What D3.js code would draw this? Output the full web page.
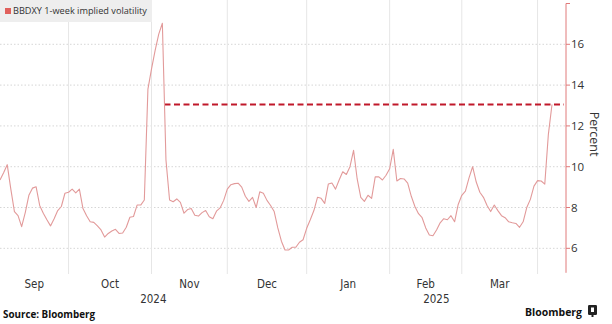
<!DOCTYPE html>
<html>
<head>
<meta charset="utf-8">
<script src="https://cdn.jsdelivr.net/npm/d3@7"></script>
<style>
  html, body { margin: 0; padding: 0; background: #fff; }
  svg { display: block; }
</style>
</head>
<body>
<svg id="chart" width="612" height="324"></svg>
<script>
// BBDXY 1-week implied volatility, daily (weekdays), from 4 Sep 2024
const startDate = "2024-09-04";
const volValues = [
  9.35, 9.7, 10.1, 8.9, 7.8, 7.6, 7.06, 7.75, 8.6, 8.95,
  9.02, 8.1, 7.72, 7.4, 7.1, 7.45, 7.85, 8.05, 8.7, 8.75,
  8.9, 8.72, 8.9, 7.95, 7.6, 7.3, 7.27, 7.1, 6.9, 6.55,
  6.73, 6.85, 6.93, 6.73, 6.75, 7.03, 7.52, 7.56, 8.12, 8.12,
  8.37, 13.8, 14.8, 15.7, 16.5, 17.03, 10.33, 8.37, 8.28, 8.42,
  8.25, 7.72, 7.9, 7.95, 7.62, 7.58, 7.75, 7.85, 7.55, 7.45,
  7.82, 7.98, 8.35, 8.9, 9.12, 9.17, 9.19, 9.0, 8.55, 8.3,
  8.5, 8.0, 8.77, 8.7, 8.35, 8.1, 7.8, 7.0, 6.35, 5.92,
  5.92, 6.05, 6.05, 6.3, 6.42, 6.98, 7.4, 7.85, 8.5, 8.45,
  8.2, 9.15, 9.2, 8.9, 9.35, 9.75, 9.62, 10.0, 10.8, 9.4,
  8.5, 8.3, 8.6, 8.45, 9.5, 9.5, 9.35, 9.58, 9.9, 10.85,
  9.3, 9.42, 9.4, 9.2, 8.55, 8.05, 7.7, 7.5, 7.0, 6.65,
  6.62, 6.9, 7.25, 7.45, 7.4, 7.6, 7.3, 8.15, 8.6, 8.8,
  9.45, 10.0, 9.25, 8.75, 8.5, 8.1, 7.8, 8.12, 7.85, 7.6,
  7.5, 7.3, 7.25, 7.22, 7.03, 7.3, 8.0, 8.4, 9.05, 9.32,
  9.3, 9.15, 11.6, 13.05
];
const yTicks = [6, 8, 10, 12, 14, 16];
const yMinorTicks = [18];
const monthNames = ["Jan","Feb","Mar","Apr","May","Jun","Jul","Aug","Sep","Oct","Nov","Dec"];
const seriesLabel = "BBDXY 1-week implied volatility";
const axisTitle = "Percent";
const sourceText = "Source: Bloomberg";
const brandText = "Bloomberg";

// trading-day calendar (weekdays) for the series
const parse = d3.timeParse("%Y-%m-%d");
const fmt = d3.timeFormat("%Y-%m-%d");
const dates = [];
{
  let d = parse(startDate);
  while (dates.length < volValues.length) {
    const wd = d.getDay();
    if (wd !== 0 && wd !== 6) dates.push(new Date(d));
    d = d3.timeDay.offset(d, 1);
  }
}
const data = dates.map((d, i) => ({ key: fmt(d), date: d, value: volValues[i] }));

const svg = d3.select("#chart");
const plotRight = 566;
const plotTop = 3.5, plotBottom = 272.8;

const x = d3.scalePoint().domain(data.map(d => d.key)).range([0, 552]);
const y = d3.scaleLinear().domain([4.8, 18]).range([plotBottom, plotTop]);

const fontMain = "'Open Sans', 'Noto Sans', sans-serif";
const fontAxis = "'DejaVu Sans Condensed', 'Liberation Sans Narrow', 'Open Sans', sans-serif";

// horizontal dotted grid
svg.append("g").selectAll("line").data(yTicks).join("line")
  .attr("x1", 0).attr("x2", plotRight)
  .attr("y1", d => y(d)).attr("y2", d => y(d))
  .attr("stroke", "#d6d6d6").attr("stroke-width", 1)
  .attr("stroke-dasharray", "1.5,2");

// month boundaries (first trading day of each month)
const monthStarts = [];
data.forEach((d, i) => {
  if (i === 0 || d.date.getMonth() !== data[i - 1].date.getMonth()) monthStarts.push(i);
});
const boundaries = monthStarts.filter(i => i > 0).map(i => x(data[i].key));
// the April boundary continues the same spacing past the last print
const step = x.step();
svg.append("g").selectAll("line").data(boundaries).join("line")
  .attr("x1", d => d).attr("x2", d => d)
  .attr("y1", 0).attr("y2", 274)
  .attr("stroke", "#e6e6e6").attr("stroke-width", 1);

// dashed reference at the latest reading, from where the election spike fell below it
const last = data[data.length - 1];
let crossX = 0;
for (let i = 1; i < data.length - 1; i++) {
  const a = data[i - 1], b = data[i];
  if (a.value >= last.value && b.value < last.value) {
    const t = (a.value - last.value) / (a.value - b.value);
    crossX = x(a.key) + t * (x(b.key) - x(a.key));
  }
}
svg.append("line")
  .attr("x1", crossX).attr("x2", plotRight - 2)
  .attr("y1", y(last.value)).attr("y2", y(last.value))
  .attr("stroke", "#c0182a").attr("stroke-width", 1.8)
  .attr("stroke-dasharray", "6,3.5");

// series line
const line = d3.line().x(d => x(d.key)).y(d => y(d.value));
svg.append("path").datum(data)
  .attr("d", line)
  .attr("fill", "none")
  .attr("stroke", "#e29a9a")
  .attr("stroke-width", 1.1)
  .attr("stroke-linejoin", "round");

// right value axis
const axisG = svg.append("g").attr("transform", `translate(${plotRight},0)`);
axisG.append("line").attr("x1", 0).attr("x2", 0).attr("y1", plotTop).attr("y2", plotBottom)
  .attr("stroke", "#e07a7a").attr("stroke-width", 1);
axisG.selectAll("line.tick").data(yTicks.concat(yMinorTicks)).join("line")
  .attr("class", "tick")
  .attr("x1", 0).attr("x2", 4)
  .attr("y1", d => y(d)).attr("y2", d => y(d))
  .attr("stroke", "#e07a7a");
axisG.selectAll("text").data(yTicks).join("text")
  .attr("x", 5).attr("y", d => y(d))
  .attr("dy", "0.35em")
  .attr("font-family", fontMain).attr("font-size", 11.5)
  .attr("fill", "#333")
  .text(d => d);
svg.append("text")
  .attr("transform", `translate(590,${y(11.6)}) rotate(90)`)
  .attr("text-anchor", "middle")
  .attr("font-family", fontMain).attr("font-size", 12.5)
  .attr("fill", "#333")
  .text(axisTitle);

// month labels centred on each month's visible span
const spanEnd = plotRight;
const monthLabels = monthStarts.map((i, k) => {
  const x0 = k === 0 ? 0 : x(data[i].key);
  const x1 = k + 1 < monthStarts.length ? x(data[monthStarts[k + 1]].key) : null;
  return { name: monthNames[data[i].date.getMonth()], x0, x1 };
}).filter(m => m.x1 !== null);
svg.append("g").selectAll("text").data(monthLabels).join("text")
  .attr("x", d => (d.x0 + d.x1) / 2).attr("y", 288)
  .attr("text-anchor", "middle")
  .attr("font-family", fontAxis).attr("font-size", 11.5)
  .attr("fill", "#333")
  .text(d => d.name);

// year labels centred on each year's visible span
const yearGroups = d3.groups(data, d => d.date.getFullYear()).map(([yr, rows]) => {
  const x0 = rows[0] === data[0] ? 0 : x(rows[0].key);
  const lastRow = rows[rows.length - 1];
  const x1 = lastRow === last ? spanEnd : x(data[data.indexOf(lastRow) + 1].key);
  return { yr, cx: (x0 + x1) / 2 };
});
svg.append("g").selectAll("text").data(yearGroups).join("text")
  .attr("x", d => d.cx).attr("y", 303)
  .attr("text-anchor", "middle")
  .attr("font-family", fontAxis).attr("font-size", 11.5)
  .attr("fill", "#333")
  .text(d => d.yr);

// legend
const legend = svg.append("g");
legend.append("rect").attr("x", 0).attr("y", 0).attr("width", 152).attr("height", 22)
  .attr("fill", "#eeeeee");
legend.append("rect").attr("x", 5).attr("y", 8).attr("width", 6).attr("height", 6)
  .attr("fill", "#e0605c");
const legText = legend.append("text").attr("x", 13).attr("y", 11).attr("dy", "0.35em")
  .attr("font-family", fontMain).attr("font-size", 10).attr("fill", "#333")
  .text(seriesLabel);

function fitWidth(sel, target) {
  const fs = +sel.attr("font-size");
  const w = sel.node().getComputedTextLength();
  if (w > 0) sel.attr("font-size", (fs * target / w).toFixed(2));
}
fitWidth(legText, 134);

// footer
const src = svg.append("text").attr("x", 3).attr("y", 318)
  .attr("font-family", fontMain).attr("font-size", 9).attr("font-weight", 700)
  .attr("fill", "#111").text(sourceText);
fitWidth(src, 92);
const brand = svg.append("text").attr("x", 582).attr("y", 316)
  .attr("text-anchor", "end")
  .attr("font-family", fontMain).attr("font-size", 11.5).attr("font-weight", 700)
  .attr("fill", "#111").text(brandText);
fitWidth(brand, 57);
svg.append("rect").attr("x", 588).attr("y", 305).attr("width", 9).attr("height", 10)
  .attr("rx", 1.2).attr("fill", "#222");
svg.append("rect").attr("x", 591).attr("y", 307.5).attr("width", 3).attr("height", 4.5)
  .attr("fill", "#fff");
svg.append("rect").attr("x", 591.5).attr("y", 315).attr("width", 2).attr("height", 2)
  .attr("fill", "#222");
</script>
</body>
</html>
